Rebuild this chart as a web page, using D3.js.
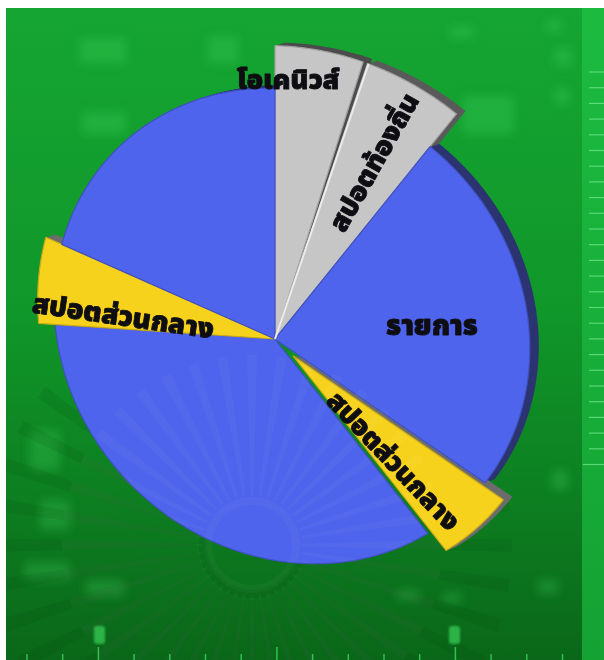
<!DOCTYPE html>
<html><head><meta charset="utf-8">
<script src="https://cdn.jsdelivr.net/npm/d3@7"></script>
<style>html,body{margin:0;padding:0;background:#fff;overflow:hidden}svg{display:block}</style>
</head><body><div id="chart"></div>
<script>
// ---------- data ----------
const categories = ["โอเคนิวส์", "สปอตท้องถิ่น", "รายการ", "สปอตส่วนกลาง", "รายการ ", "สปอตส่วนกลาง ", "รายการ  "];
const values     = [5.0, 5.8, 23.75, 4.85, 36.65, 5.6, 18.35];
const showLabel  = [true, true, true, true, false, true, false];

// ---------- styles ----------
const W = 604, H = 660;
const sliceStyle = [
  {fill:"#c6c6c6", side:"#4b4b4b", scale:1.17, explode:0,  inset0:0,   inset1:0.35},
  {fill:"#c6c6c6", side:"#5a5a5a", scale:1.17, explode:0,  inset0:0.55, inset1:0},
  {fill:"#4f64ec", side:"#2b3470", scale:1.0,  explode:0,  inset0:0,   inset1:0},
  {fill:"#f7d21d", side:"#6c6c6c", scale:1.0,  explode:25, inset0:0,   inset1:0},
  {fill:"#4f64ec", side:null,      scale:1.0,  explode:0,  inset0:0,   inset1:0},
  {fill:"#f7d21d", side:"#6c6c6c", scale:1.075,explode:0,  inset0:0,   inset1:0},
  {fill:"#4f64ec", side:"#2b3470", scale:1.0,  explode:0,  inset0:0,   inset1:0}
];
const labelStyle = [
  {t:0.16, rf:0.885, size:27, rot:false},
  {t:0.55, rf:0.70,  size:27, rot:true},
  {t:0.546,rf:0.62,  size:28, rot:false},
  {t:0.70, rf:0.58,  size:27, rot:true},
  null,
  {t:0.22, rf:0.64,  size:27.5, rot:true},
  null
];
const apex = {x:275, y:339};
const ell = {x:292, y:326, a:249, b:226, rot:Math.PI/4};
const sideOffset = {x:9, y:-3};
const FONT = "'Noto Sans Thai','Noto Sans Thai UI','Loma','Garuda','Tlwg Typo','Noto Sans',sans-serif";

const svg = d3.select("#chart").append("svg").attr("width", W).attr("height", H);
const defs = svg.append("defs");
const g1 = defs.append("linearGradient").attr("id","bg").attr("x1",0).attr("y1",0).attr("x2",0).attr("y2",1);
g1.append("stop").attr("offset","0%").attr("stop-color","#15a532");
g1.append("stop").attr("offset","45%").attr("stop-color","#10982a");
g1.append("stop").attr("offset","75%").attr("stop-color","#0d7f21");
g1.append("stop").attr("offset","100%").attr("stop-color","#0a6719");
const g2 = defs.append("linearGradient").attr("id","strip").attr("x1",0).attr("y1",0).attr("x2",0).attr("y2",1);
g2.append("stop").attr("offset","0%").attr("stop-color","#1cbb40");
g2.append("stop").attr("offset","100%").attr("stop-color","#14a233");
defs.append("filter").attr("id","blur").attr("x","-50%").attr("y","-50%").attr("width","200%").attr("height","200%")
  .append("feGaussianBlur").attr("stdDeviation",5);
defs.append("filter").attr("id","soft").append("feGaussianBlur").attr("stdDeviation",1.2);
defs.append("clipPath").attr("id","clipBg").append("rect").attr("x",6).attr("y",8).attr("width",W-6).attr("height",H-8);

// ---------- background ----------
const bg = svg.append("g").attr("clip-path","url(#clipBg)");
bg.append("rect").attr("x",6).attr("y",8).attr("width",576).attr("height",H-8).attr("fill","url(#bg)");
bg.append("rect").attr("x",582).attr("y",8).attr("width",22).attr("height",H-8).attr("fill","url(#strip)");

const blobs = [[80,38,46,26],[208,36,30,28],[450,26,24,12],[546,20,16,12],[462,96,52,38],[82,112,44,22],
  [554,48,18,18],[554,88,16,16],[24,562,46,18],[86,580,38,16],[396,590,24,10],[442,593,20,10],[538,580,20,14],
  [30,430,30,40],[552,470,16,20],[40,500,30,30]];
bg.append("g").attr("filter","url(#blur)").selectAll("rect").data(blobs).join("rect")
  .attr("x",d=>d[0]).attr("y",d=>d[1]).attr("width",d=>d[2]).attr("height",d=>d[3]).attr("rx",4)
  .attr("fill","#44e066").attr("opacity",0.25);

// sunburst rays
const burst = {x:252, y:545};
const rayAngles = d3.range(0, 360, 9);
function drawBurst(parent, color, op, r0, r1){
  const rayArc = d3.arc().innerRadius(r0).outerRadius(r1);
  const gB = parent.append("g").attr("transform",`translate(${burst.x},${burst.y})`);
  gB.selectAll("path").data(rayAngles).join("path")
    .attr("d", a => rayArc({startAngle:(a-1.5)*Math.PI/180, endAngle:(a+1.5)*Math.PI/180}))
    .attr("fill", color).attr("opacity", op);
  gB.append("circle").attr("r",r0-6).attr("fill","none").attr("stroke",color).attr("stroke-width",8).attr("opacity",op);
}
drawBurst(bg, "#063d0c", 0.1, 55, 260);

// bottom ruler
const rulerX = d3.range(16).map(i => 27 + i*35.7);
bg.append("g").selectAll("line").data(rulerX).join("line")
  .attr("x1",d=>d).attr("x2",d=>d).attr("y1",(d,i)=> i%5===2 ? 647 : 654).attr("y2",660)
  .attr("stroke","#3ccf5c").attr("stroke-width",1.5).attr("opacity",0.85);
bg.append("g").attr("filter","url(#soft)").selectAll("rect").data([94,449]).join("rect")
  .attr("x",d=>d).attr("y",626).attr("width",11).attr("height",18).attr("rx",3).attr("fill","#33c653").attr("opacity",0.8);
// right strip ticks
const stripY = d3.range(26).map(i => 72 + i*15.7);
bg.append("g").selectAll("line").data(stripY).join("line")
  .attr("x1",(d,i)=> i===25 ? 583 : 589).attr("x2",604).attr("y1",d=>d).attr("y2",d=>d)
  .attr("stroke","#6fe88a").attr("stroke-width",1.2).attr("opacity",0.75);

// ---------- pie ----------
const arcs = d3.pie().sort(null).value(d=>d)(values);
function rayR(theta){
  const dx = Math.sin(theta), dy = -Math.cos(theta);
  const c = Math.cos(ell.rot), s = Math.sin(ell.rot);
  const px = apex.x-ell.x, py = apex.y-ell.y;
  const pu = px*c+py*s, pv = -px*s+py*c;
  const du = dx*c+dy*s, dv = -dx*s+dy*c;
  const A = du*du/(ell.a*ell.a) + dv*dv/(ell.b*ell.b);
  const B = 2*(pu*du/(ell.a*ell.a) + pv*dv/(ell.b*ell.b));
  const C = pu*pu/(ell.a*ell.a) + pv*pv/(ell.b*ell.b) - 1;
  return (-B + Math.sqrt(B*B-4*A*C))/(2*A);
}
const deg = Math.PI/180;
function outline(d, st){
  const a0 = d.startAngle + st.inset0*deg, a1 = d.endAngle - st.inset1*deg;
  const n = Math.max(4, Math.ceil((a1-a0)/0.01));
  const pts = [[a0,0]];
  for (let i=0;i<=n;i++){ const a=a0+(a1-a0)*i/n; pts.push([a, rayR(a)*st.scale]); }
  pts.push([a1,0]);
  return pts;
}
const radial = d3.lineRadial().angle(p=>p[0]).radius(p=>p[1]).curve(d3.curveLinearClosed);
function origin(d, st){
  const mid = (d.startAngle+d.endAngle)/2;
  return [apex.x + st.explode*Math.sin(mid), apex.y - st.explode*Math.cos(mid)];
}
const pieG = svg.append("g");
const steps = d3.range(1,7).map(k=>k/6);
arcs.forEach((d,i)=>{
  const st = sliceStyle[i]; if(!st.side) return;
  const [ox,oy] = origin(d,st);
  pieG.append("g").selectAll("path").data(steps).join("path")
    .attr("transform", t=>`translate(${ox+sideOffset.x*t},${oy+sideOffset.y*t})`)
    .attr("d", radial(outline(d,st))).attr("fill", st.side);
});
arcs.forEach((d,i)=>{
  const st = sliceStyle[i];
  const [ox,oy] = origin(d,st);
  pieG.append("path").attr("transform",`translate(${ox},${oy})`)
    .attr("d", radial(outline(d,st))).attr("fill", st.fill)
    .attr("stroke", d3.color(st.fill).darker(0.6)).attr("stroke-width",1.2).attr("stroke-linejoin","round");
});
// light bevel on the left edge of the second grey slice
{
  const d = arcs[1], st = sliceStyle[1];
  const a = d.startAngle + st.inset0*deg + 0.004;
  const r = rayR(a)*st.scale;
  pieG.append("line").attr("x1",apex.x).attr("y1",apex.y)
    .attr("x2",apex.x + r*Math.sin(a)).attr("y2",apex.y - r*Math.cos(a))
    .attr("stroke","#ececec").attr("stroke-width",2);
}
// faint emblem showing through the bottom slice
drawBurst(pieG, "#ffffff", 0.03, 50, 190);

// ---------- labels ----------
arcs.forEach((d,i)=>{
  const ls = labelStyle[i]; if(!showLabel[i] || !ls) return;
  const st = sliceStyle[i];
  const [ox,oy] = origin(d,st);
  const a = d.startAngle + (d.endAngle-d.startAngle)*ls.t;
  const r = rayR(a)*st.scale*ls.rf;
  const x = ox + r*Math.sin(a), y = oy - r*Math.cos(a);
  let rot = 0;
  if (ls.rot){ rot = a/deg - 90; if (rot > 90) rot -= 180; if (rot < -90) rot += 180; }
  svg.append("text").attr("transform",`translate(${x},${y}) rotate(${rot})`)
    .attr("text-anchor","middle").attr("dominant-baseline","central")
    .attr("font-family",FONT).attr("font-weight",900).attr("font-size",ls.size)
    .attr("fill","#0d0d12").attr("stroke","#0d0d12").attr("stroke-width",0.8)
    .attr("stroke-linejoin","round").attr("paint-order","stroke")
    .text(categories[i].trim());
});
</script></body></html>
